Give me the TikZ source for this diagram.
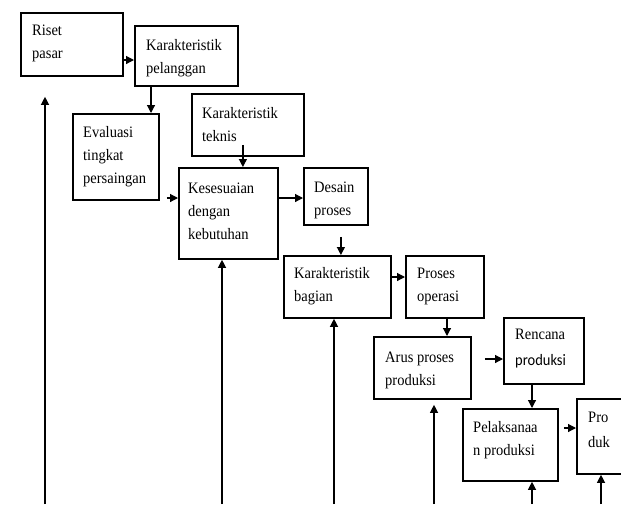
\documentclass[tikz,border=0pt]{standalone}
\usepackage{fontspec}
\setmainfont{Liberation Serif}
\newfontfamily\sansbody{Carlito}
\usetikzlibrary{arrows.meta}
% multi-line label whose reference point is the first baseline, set slightly tall
\newcommand{\boxtext}[1]{\scalebox{1}[1.1]{\begin{tabular}[t]{@{}l@{}}#1\end{tabular}}}

\begin{document}
\begin{tikzpicture}[x=1pt,y=-1pt,
  stage/.style={draw, line width=1.8pt, inner sep=0pt, anchor=north west},
  boxlabel/.style={anchor=base west, inner sep=0pt, font=\fontsize{14.5}{21}\selectfont},
  flow/.style={line width=1.2pt, -{Triangle[length=8pt,width=8pt]}}
]
\useasboundingbox (0,0) rectangle (621,504);
\fill[white] (0,0) rectangle (621,504);
\clip (0,0) rectangle (621,504);

% stages of the process
\node[stage, minimum width=102pt, minimum height=63pt] (riset)       at (20,12)   {};
\node[stage, minimum width=103pt, minimum height=60pt] (pelanggan)   at (134,25)  {};
\node[stage, minimum width=86pt,  minimum height=86pt] (evaluasi)    at (72,113)  {};
\node[stage, minimum width=112pt, minimum height=62pt] (teknis)      at (191,93)  {};
\node[stage, minimum width=99pt,  minimum height=91pt] (kesesuaian)  at (178,167) {};
\node[stage, minimum width=64pt,  minimum height=57pt] (desain)      at (303,167) {};
\node[stage, minimum width=107pt, minimum height=62pt] (bagian)      at (283,255) {};
\node[stage, minimum width=78pt,  minimum height=62pt] (operasi)     at (405,255) {};
\node[stage, minimum width=97pt,  minimum height=62pt] (arus)        at (373,336) {};
\node[stage, minimum width=80pt,  minimum height=66pt] (rencana)     at (503,317) {};
\node[stage, minimum width=95pt,  minimum height=72pt] (pelaksanaan) at (462,408) {};
\node[stage, minimum width=54pt,  minimum height=75pt] (produk)      at (576,398) {};

% labels
\node[boxlabel] (tRiset)       at (32,35)   {\boxtext{Riset\\pasar}};
\node[boxlabel] (tPelanggan)   at (146,50)  {\boxtext{Karakteristik\\pelanggan}};
\node[boxlabel] (tEvaluasi)    at (83,137)  {\boxtext{Evaluasi\\tingkat\\persaingan}};
\node[boxlabel] (tTeknis)      at (202,118) {\boxtext{Karakteristik\\teknis}};
\node[boxlabel] (tKesesuaian)  at (188,193) {\boxtext{Kesesuaian\\dengan\\kebutuhan}};
\node[boxlabel] (tDesain)      at (314,192) {\boxtext{Desain\\proses}};
\node[boxlabel] (tBagian)      at (294,278) {\boxtext{Karakteristik\\bagian}};
\node[boxlabel] (tOperasi)     at (417,278) {\boxtext{Proses\\operasi}};
\node[boxlabel] (tArus)        at (385,362) {\boxtext{Arus proses\\produksi}};
\node[boxlabel] (tRencana)     at (515,339) {\boxtext{Rencana\\[3pt]{\sansbody produksi}}};
\node[boxlabel] (tPelaksanaan) at (473,432) {\boxtext{Pelaksanaa\\n produksi}};
\node[boxlabel] (tProduk)      at (588,422) {\boxtext{Pro\\[2pt]duk}};

% forward flow
\draw[flow] (riset.east |- 0,60) -- (pelanggan.west |- 0,60);
\draw[flow] ([xshift=17pt]pelanggan.south west) -- ([xshift=17pt]pelanggan.south west |- evaluasi.north);
\draw[flow] ([xshift=-5pt,yshift=12pt]teknis.south) -- ([xshift=-5pt]teknis.south |- kesesuaian.north);
\draw[flow, shorten <=7pt] (evaluasi.east |- 0,198) -- (kesesuaian.west |- 0,198);
\draw[flow] (kesesuaian.east |- 0,198) -- (desain.west |- 0,198);
\draw[flow, shorten <=11pt] ([xshift=5pt]desain.south) -- ([xshift=5pt]desain.south |- bagian.north);
\draw[flow] (bagian.east |- 0,277) -- (operasi.west |- 0,277);
\draw[flow] ([xshift=42pt]operasi.south west) -- ([xshift=42pt]operasi.south west |- arus.north);
\draw[flow, shorten <=13pt] (arus.east |- 0,359) -- (rencana.west |- 0,359);
\draw[flow] ([xshift=29pt]rencana.south west) -- ([xshift=29pt]rencana.south west |- pelaksanaan.north);
\draw[flow, shorten <=5pt] (pelaksanaan.east |- 0,428) -- (produk.west |- 0,428);

% feedback lines rising from below
\coordinate (f1) at (45,504);
\coordinate (f2) at (222,504);
\coordinate (f3) at (334,504);
\coordinate (f4) at (434,504);
\coordinate (f5) at (532,504);
\coordinate (f6) at (601,504);
\draw[flow, shorten >=20pt] (f1) -- (f1 |- riset.south);
\draw[flow] (f2) -- (f2 |- kesesuaian.south);
\draw[flow] (f3) -- (f3 |- bagian.south);
\draw[flow, shorten >=5pt] (f4) -- (f4 |- arus.south);
\draw[flow] (f5) -- (f5 |- pelaksanaan.south);
\draw[flow] (f6) -- (f6 |- produk.south);
\end{tikzpicture}
\end{document}
